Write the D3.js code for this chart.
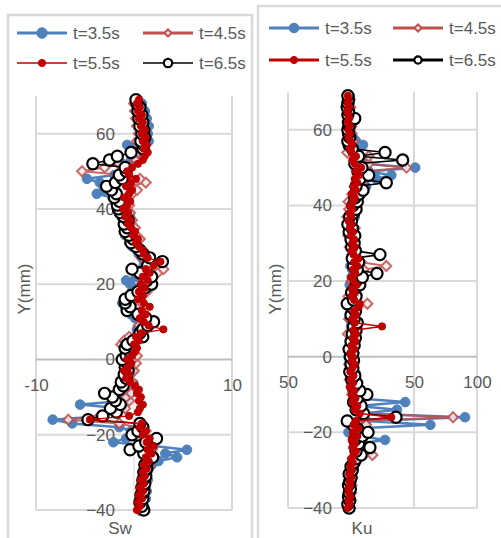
<!DOCTYPE html>
<html>
<head>
<meta charset="utf-8">
<script src="https://cdn.jsdelivr.net/npm/d3@7"></script>
<style>
  body { margin: 0; background: #fff; }
  svg { display: block; font-family: "Liberation Sans", Arial, sans-serif; }
</style>
</head>
<body>
<svg id="chart" width="501" height="538"></svg>
<script>
// Y positions (mm) of the measuring points
const yVals = [-40,-39,-38,-37,-36,-35,-34,-33,-32,-31,
  -30,-29,-28,-27,-26,-25,-24,-23,-22,-21,
  -20,-19,-18,-17,-16,-15,-14,-13,-12,-11,
  -10,-9,-8,-7,-6,-5,-4,-3,-2,-1,
  0,1,2,3,4,5,6,7,8,9,
  10,11,12,13,14,15,16,17,18,19,
  20,21,22,23,24,25,26,27,28,29,
  30,31,32,33,34,35,36,37,38,39,
  40,41,42,43,44,45,46,47,48,49,
  50,51,52,53,54,55,56,57,58,59,
  60,61,62,63,64,65,66,67,68,69];

const seriesNames = ["t=3.5s", "t=4.5s", "t=5.5s", "t=6.5s"];

// skewness Sw
const sw35 = [0.8,1.0,0.9,1.2,1.1,1.3,1.0,1.2,1.4,1.1,
  1.3,1.5,1.8,2.5,4.4,3.2,5.4,2.0,-2.1,-0.8,
  0.6,-0.3,-1.5,-6.3,-8.3,-3.0,-2.0,-1.2,-5.5,-0.8,
  -1.5,-0.8,-1.3,-1.0,-0.6,-0.9,-0.5,-0.2,-0.6,-0.3,
  -0.5,-0.2,-0.8,-0.4,-1.0,-0.3,0.2,0.5,0.3,0.8,
  0.6,0.1,-0.3,-0.6,-0.9,-1.2,-0.7,-0.5,-0.2,0.3,
  -0.4,-0.8,0.2,0.6,-0.3,1.0,1.6,0.8,0.5,0.3,
  -0.2,-0.5,-0.4,-0.9,-0.6,-0.3,-0.8,-1.0,-0.4,-0.6,
  -1.2,-0.8,-1.5,-2.2,-3.8,-3.1,-2.4,-3.5,-4.8,-2.0,
  -0.9,-0.6,-1.2,-0.3,0.2,0.6,0.9,-0.7,1.5,1.3,
  1.4,1.2,1.5,1.0,1.3,0.9,1.1,0.7,0.8,0.4];
const sw45 = [0.5,0.7,0.9,0.6,1.0,0.8,1.1,0.9,1.2,1.0,
  1.3,1.1,1.6,1.4,2.0,1.2,1.8,0.9,1.5,0.6,
  0.8,1.2,0.3,-1.5,-6.7,-3.5,-1.8,-0.9,-1.4,-0.5,
  -0.8,-0.3,-1.0,-0.6,-0.2,-0.7,-0.4,0.0,-0.3,0.2,
  -0.1,0.3,-0.4,-0.8,-1.3,-1.0,-0.5,0.4,0.9,0.5,
  1.2,0.6,0.2,-0.3,0.5,0.8,0.3,0.9,1.3,0.7,
  1.5,1.0,1.8,2.4,3.0,2.2,1.5,0.8,1.2,0.9,
  0.4,0.1,0.6,0.2,-0.3,0.1,-0.5,-0.2,-0.7,-0.4,
  -0.9,-0.5,-1.3,-0.8,-0.2,0.3,-0.6,1.2,0.6,-1.0,
  -5.3,-3.0,-1.5,0.2,0.8,0.4,1.0,0.6,0.3,0.9,
  0.5,0.8,0.3,0.7,0.2,0.6,0.1,0.4,0.0,0.3];
const sw55 = [0.3,0.6,0.4,0.8,0.5,0.9,0.6,1.0,0.7,1.1,
  0.9,1.3,1.0,1.5,1.2,1.8,1.4,2.0,1.3,1.6,
  0.9,1.2,0.6,0.8,-4.5,-0.5,0.4,0.6,0.9,0.5,
  0.7,0.3,0.5,0.1,-0.4,-0.8,-0.5,-1.0,-0.6,-0.3,
  -0.7,-0.2,0.1,0.3,0.0,0.5,0.2,0.8,3.0,1.5,
  1.0,0.6,1.2,0.8,1.6,1.0,0.4,0.9,0.5,1.1,
  0.7,1.4,0.9,1.6,1.2,2.0,2.7,1.4,1.0,0.9,
  0.5,0.2,0.4,-0.1,0.1,-0.3,-0.6,-0.4,-0.9,-0.6,
  -1.1,-0.7,-0.4,-1.0,-0.5,-0.2,-0.8,-0.3,0.2,-0.5,
  -0.7,-0.2,0.4,0.9,1.1,1.4,1.0,1.3,0.9,1.2,
  0.8,1.1,0.7,0.9,0.5,0.8,0.4,0.6,0.3,0.5];
const sw65 = [1.0,0.8,0.6,0.9,0.7,1.0,0.8,1.1,0.9,1.2,
  1.0,1.3,1.1,1.4,1.9,1.0,-0.4,0.5,1.2,2.3,
  -0.2,0.4,0.9,0.6,-4.7,-3.2,-1.8,-2.4,-1.4,-1.9,
  -2.2,-3.0,-1.5,-1.1,-1.3,-0.8,-1.0,-0.6,-0.9,-0.7,
  -1.2,-0.8,-0.4,-0.9,-0.7,-0.1,0.9,0.6,0.9,1.4,
  2.0,1.2,0.4,-0.7,-0.4,-0.9,-0.9,-0.3,0.4,1.1,
  1.8,1.3,1.8,0.6,-0.2,1.4,2.9,1.6,0.9,0.6,
  0.2,-0.3,-0.1,-0.5,-0.9,-0.7,-1.0,-0.6,-1.1,-1.4,
  -1.6,-1.7,-1.5,-2.0,-1.8,-2.3,-2.8,-1.9,-1.2,-1.5,
  -0.8,-0.9,-4.2,-2.5,-1.7,-0.3,0.9,1.0,0.7,1.1,
  0.8,1.0,0.6,0.9,0.5,0.8,0.4,0.6,0.3,0.2];

// kurtosis Ku
const ku35 = [-2.0,-1.5,-2.2,-1.0,-1.8,-0.5,-1.2,0.3,-0.8,1.0,
  0.5,2.0,1.2,4.5,6.0,15.0,9.0,5.0,27.0,8.0,
  -2.0,3.0,63.0,12.0,90.5,10.0,36.5,6.0,43.0,4.0,
  2.5,1.0,3.0,0.5,2.0,-0.5,1.5,0.0,2.5,-1.0,
  -2.0,1.0,-0.5,2.0,0.5,3.0,1.0,2.5,0.0,1.5,
  -1.0,2.0,0.5,3.5,1.0,-0.5,2.0,4.0,1.5,-1.0,
  2.5,0.5,3.0,1.0,-0.5,2.0,4.5,1.0,3.0,0.5,
  2.0,0.0,3.5,1.0,2.5,-0.5,1.5,3.0,0.5,2.0,
  4.0,2.5,6.0,3.5,8.0,12.0,7.0,20.0,32.0,14.0,
  51.0,10.0,6.0,3.5,5.0,2.0,9.5,4.0,1.5,0.0,
  -1.0,0.5,-1.5,0.0,-2.0,-1.0,-2.5,-1.5,-2.0,-1.0];
const ku45 = [-1.0,-2.0,-0.5,-1.5,0.0,-1.0,0.5,-0.5,1.0,0.0,
  1.5,0.5,3.0,6.0,17.0,5.0,8.0,3.5,6.0,2.0,
  4.0,1.5,12.0,5.0,81.0,9.0,4.0,7.0,2.5,5.0,
  1.0,3.5,0.5,2.0,-1.0,1.5,3.0,0.5,-1.5,1.0,
  0.0,2.0,-1.0,1.5,3.0,0.5,-2.5,2.0,4.0,1.0,
  -1.5,2.5,0.0,5.0,13.0,3.0,-2.0,1.5,4.0,2.0,
  0.5,3.5,6.0,10.0,28.0,8.0,3.0,1.0,4.0,-1.0,
  2.0,0.5,-2.0,1.5,3.0,-1.0,0.5,-3.0,1.0,-1.5,
  2.0,-2.0,4.0,1.0,6.0,3.0,9.0,5.0,12.0,8.0,
  44.0,14.0,6.0,14.0,-3.0,2.0,-1.0,1.5,-0.5,0.5,
  -1.5,0.0,-2.0,-1.0,0.5,-1.5,-0.5,-2.0,-1.0,-1.5];
const ku55 = [-2.5,-1.0,-2.0,-0.5,-1.5,-2.0,-0.5,-1.0,0.0,-1.5,
  0.5,-0.5,1.5,0.0,2.0,4.0,1.0,3.0,0.5,5.0,
  1.5,6.0,2.0,4.0,32.0,7.0,3.0,5.0,1.0,3.5,
  0.5,2.5,-1.0,1.5,0.0,2.0,-0.5,1.0,3.0,0.5,
  1.5,-0.5,2.5,0.5,3.5,1.5,4.0,2.0,24.6,3.0,
  1.0,4.0,2.0,5.5,7.0,2.5,0.5,3.0,1.0,4.5,
  2.0,0.0,3.5,1.5,5.0,2.5,6.0,2.0,0.5,3.0,
  1.0,2.5,0.0,1.5,-1.0,0.5,-2.0,0.0,-1.0,1.0,
  -0.5,1.5,3.0,0.5,4.0,2.0,5.0,3.0,6.5,4.0,
  8.0,3.0,1.0,4.0,0.5,-1.0,1.0,-0.5,-2.0,-1.0,
  -2.0,-1.0,-2.5,-1.5,-2.0,-3.0,-1.5,-2.5,-2.0,-2.5];
const ku65 = [-1.5,-2.5,-1.0,-2.0,-1.5,-0.5,-2.0,-1.0,0.0,-1.5,
  1.0,0.0,2.5,4.0,8.0,4.0,15.0,6.0,3.0,9.0,
  13.5,5.0,1.6,-3.0,35.7,10.0,4.0,8.0,2.0,5.0,
  12.6,7.0,2.0,4.5,0.5,3.0,-1.0,1.5,0.0,2.0,
  -0.5,1.5,-1.5,2.5,0.0,3.5,1.0,4.0,2.0,5.0,
  2.5,0.0,3.5,1.0,-3.0,2.0,4.0,0.5,3.0,7.0,
  4.0,9.0,20.6,5.0,2.0,6.0,1.0,23.0,3.5,0.5,
  2.5,0.0,3.0,-1.5,1.0,-2.5,0.5,-1.0,2.0,4.0,
  1.5,5.0,3.0,6.5,9.5,4.0,28.0,7.0,14.0,5.5,
  8.7,3.0,41.0,6.0,27.0,1.0,-1.5,-2.5,-1.0,-2.0,
  -2.5,-1.5,-2.0,3.0,-2.5,-2.0,-3.0,-2.5,-2.0,-2.5];

// axis ticks and labels
const yTicks = [-40, -20, 0, 20, 40, 60];
const swTicks = [-10, 0, 10];
const swTickLabels = ["-10", "0", "10"];
const kuTicks = [-50, 0, 50, 100];
const kuTickLabels = ["50", "0", "50", "100"];

const grey = "#595959";
const gridColor = "#d9d9d9";

// series styles, in drawing order
const styles = [
  { name: seriesNames[0], color: "#4f81bd", width: 2.5, marker: "circle", r: 4.8, fill: "#4f81bd", sw: 1, opacity: 1 },
  { name: seriesNames[1], color: "#c0504d", width: 2, marker: "diamond", r: 5, fill: "#fbeaea", sw: 2, opacity: 0.85 },
  { name: seriesNames[3], color: "#000000", width: 1.6, marker: "circle", r: 5.6, fill: "#ffffff", sw: 2.2, opacity: 1 },
  { name: seriesNames[2], color: "#c00000", width: 1.4, marker: "circle", r: 3.6, fill: "#c00000", sw: 1, opacity: 1 }
];

const svg = d3.select("#chart");

const drawMarker = (g, st, x, y, scale) => {
  const r = st.r * scale;
  if (st.marker === "diamond") {
    g.append("path")
      .attr("d", `M${x},${y - r}L${x + r},${y}L${x},${y + r}L${x - r},${y}Z`)
      .attr("fill", st.fill)
      .attr("stroke", st.color)
      .attr("stroke-width", st.sw);
  } else {
    g.append("circle")
      .attr("cx", x).attr("cy", y).attr("r", r)
      .attr("fill", st.fill)
      .attr("stroke", st.color)
      .attr("stroke-width", st.sw);
  }
};

const drawPanel = (p) => {
  const g = svg.append("g");

  // chart frame
  g.append("rect")
    .attr("x", p.frame[0]).attr("y", p.frame[1])
    .attr("width", p.frame[2]).attr("height", p.frame[3])
    .attr("fill", "#fff")
    .attr("stroke", gridColor)
    .attr("stroke-width", 2.5);

  const xScale = d3.scaleLinear().domain(p.xDomain).range(p.xRange);
  const yScale = d3.scaleLinear().domain([-40, 70]).range(p.yRange);

  // gridlines
  g.selectAll(".hgrid")
    .data(yTicks.filter(t => t !== 0))
    .enter().append("line")
    .attr("x1", p.xRange[0]).attr("x2", p.xRange[1])
    .attr("y1", d => yScale(d)).attr("y2", d => yScale(d))
    .attr("stroke", gridColor).attr("stroke-width", 2);
  g.selectAll(".vgrid")
    .data(p.xTicks.filter(t => t !== 0))
    .enter().append("line")
    .attr("x1", d => xScale(d)).attr("x2", d => xScale(d))
    .attr("y1", p.yRange[0]).attr("y2", p.yRange[1])
    .attr("stroke", gridColor).attr("stroke-width", 2);

  // axis lines
  g.append("line")
    .attr("x1", p.xRange[0]).attr("x2", p.xRange[1])
    .attr("y1", yScale(0)).attr("y2", yScale(0))
    .attr("stroke", "#bfbfbf").attr("stroke-width", 2);
  g.append("line")
    .attr("x1", xScale(0)).attr("x2", xScale(0))
    .attr("y1", p.yRange[0]).attr("y2", p.yRange[1])
    .attr("stroke", "#d9d9d9").attr("stroke-width", 1);

  // tick labels
  const xAxis = d3.axisBottom(xScale)
    .tickValues(p.xTicks)
    .tickFormat((d, i) => p.xLabels[i])
    .tickSize(0).tickPadding(19);
  g.append("g")
    .attr("transform", "translate(0," + yScale(0) + ")")
    .call(xAxis)
    .call(a => a.select(".domain").remove())
    .selectAll("text").attr("fill", grey).style("font-size", "17px");

  const yAxis = d3.axisLeft(yScale)
    .tickValues(yTicks)
    .tickSize(0).tickPadding(19);
  g.append("g")
    .attr("transform", "translate(" + xScale(0) + ",0)")
    .call(yAxis)
    .call(a => a.select(".domain").remove())
    .selectAll("text").attr("fill", grey).style("font-size", "17px");

  // axis titles
  g.append("text")
    .attr("x", p.xTitlePos[0]).attr("y", p.xTitlePos[1])
    .attr("text-anchor", "middle")
    .attr("fill", grey).style("font-size", "17px")
    .text(p.xTitle);
  g.append("text")
    .attr("transform", `translate(${p.yTitlePos[0]},${p.yTitlePos[1]}) rotate(-90)`)
    .attr("text-anchor", "middle")
    .attr("fill", grey).style("font-size", "17px")
    .text("Y(mm)");

  // series
  styles.forEach(st => {
    const vals = p.data[st.name];
    const pts = yVals.map((y, i) => [xScale(vals[i]), yScale(y)]);
    const sg = g.append("g").attr("opacity", st.opacity);
    sg.append("path")
      .attr("d", d3.line()(pts))
      .attr("fill", "none")
      .attr("stroke", st.color)
      .attr("stroke-width", st.width)
      .attr("stroke-linejoin", "round");
    pts.forEach(pt => drawMarker(sg, st, pt[0], pt[1], 1));
  });

  // legend
  const legendOrder = [seriesNames[0], seriesNames[1], seriesNames[2], seriesNames[3]];
  legendOrder.forEach((name, i) => {
    const st = styles.find(s => s.name === name);
    const col = i % 2, row = Math.floor(i / 2);
    const x0 = p.legend.x[col];
    const y0 = p.legend.y[row];
    const lw = p.legend.lineWidths[i];
    g.append("line")
      .attr("x1", x0).attr("x2", x0 + 50)
      .attr("y1", y0).attr("y2", y0)
      .attr("stroke", st.color).attr("stroke-width", lw);
    drawMarker(g, st, x0 + 25, y0, p.legend.markerScale[i]);
    g.append("text")
      .attr("x", x0 + 56).attr("y", y0 + 6)
      .attr("fill", grey).style("font-size", "17px")
      .text(name);
  });
};

drawPanel({
  frame: [8, 15, 244, 540],
  xDomain: [-10, 10], xRange: [36, 232], yRange: [510, 96],
  xTicks: swTicks, xLabels: swTickLabels,
  xTitle: "Sw", xTitlePos: [120, 534],
  yTitlePos: [30, 289],
  data: { "t=3.5s": sw35, "t=4.5s": sw45, "t=5.5s": sw55, "t=6.5s": sw65 },
  legend: { x: [17, 143], y: [33, 63], lineWidths: [3, 3, 1.3, 1.3], markerScale: [1.1, 0.7, 1, 0.75] }
});

drawPanel({
  frame: [258, 6, 250, 550],
  xDomain: [-50, 100], xRange: [288, 477], yRange: [508, 92],
  xTicks: kuTicks, xLabels: kuTickLabels,
  xTitle: "Ku", xTitlePos: [362, 534],
  yTitlePos: [281, 289],
  data: { "t=3.5s": ku35, "t=4.5s": ku45, "t=5.5s": ku55, "t=6.5s": ku65 },
  legend: { x: [269, 393], y: [28, 60], lineWidths: [3, 3, 3, 3], markerScale: [1, 0.7, 1, 0.65] }
});
</script>
</body>
</html>
